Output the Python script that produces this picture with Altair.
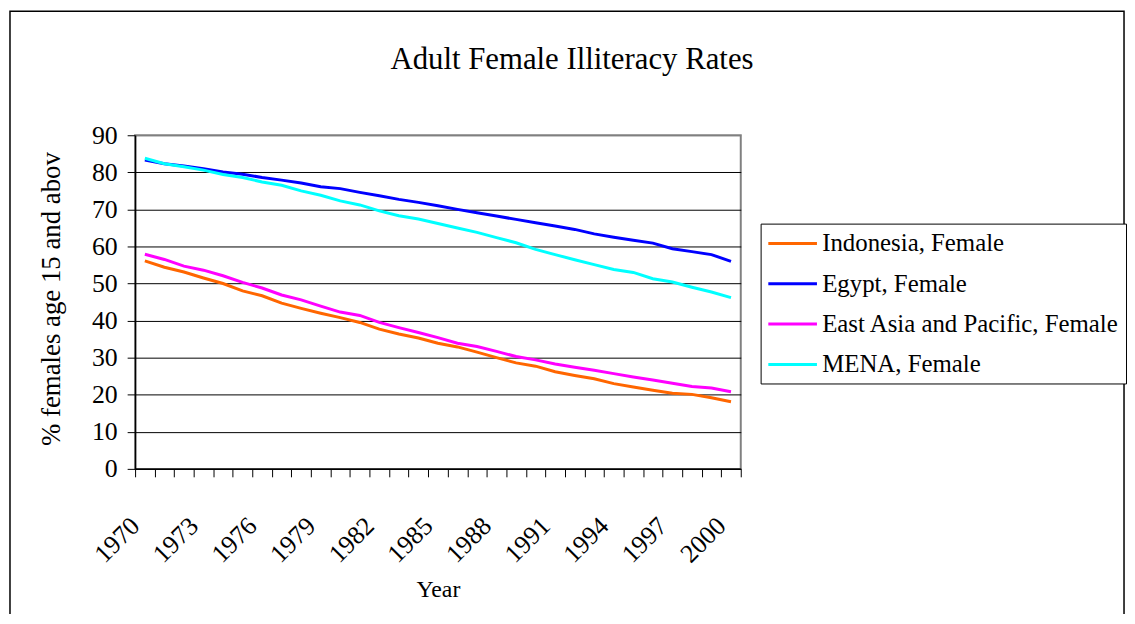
import altair as alt
import pandas as pd

# ---------------- data ----------------
years = list(range(1970, 2001))
label_years = list(range(1970, 2001, 3))
y_ticks = list(range(0, 91, 10))

series_names = ["Indonesia, Female", "Egypt, Female",
                "East Asia and Pacific, Female", "MENA, Female"]
series_colors = ["#FF6600", "#0000FF", "#FF00FF", "#00FFFF"]

indonesia = [56.1, 54.4, 53.1, 51.5, 50.0, 48.0, 46.7, 44.7, 43.3, 42.0,
             40.8, 39.5, 37.7, 36.4, 35.3, 33.9, 32.9, 31.5, 30.0, 28.6,
             27.7, 26.2, 25.2, 24.3, 23.0, 22.1, 21.2, 20.4, 20.1, 19.2, 18.1]
egypt = [83.3, 82.3, 81.7, 81.0, 80.1, 79.5, 78.6, 77.9, 77.1, 76.1,
         75.6, 74.6, 73.7, 72.7, 71.9, 71.0, 70.0, 69.1, 68.2, 67.3,
         66.4, 65.5, 64.6, 63.4, 62.5, 61.7, 60.9, 59.4, 58.6, 57.8, 56.0]
east_asia = [57.9, 56.5, 54.7, 53.6, 52.1, 50.3, 48.8, 46.9, 45.6, 43.9,
             42.3, 41.4, 39.5, 38.1, 36.8, 35.4, 33.9, 33.0, 31.7, 30.3,
             29.4, 28.3, 27.4, 26.6, 25.7, 24.8, 24.0, 23.1, 22.2, 21.8, 20.8]
mena = [83.8, 82.3, 81.5, 80.6, 79.4, 78.6, 77.4, 76.5, 75.0, 73.8,
        72.3, 71.2, 69.6, 68.3, 67.4, 66.2, 65.0, 63.8, 62.4, 61.0,
        59.2, 57.8, 56.4, 55.1, 53.8, 53.0, 51.3, 50.4, 49.0, 47.7, 46.2]

chart_title = "Adult Female Illiteracy Rates"
x_title = "Year"
y_title = "% females age 15 and above"

# ---------------- table ----------------
rows = []
for name, vals in zip(series_names, [indonesia, egypt, east_asia, mena]):
    for yr, v in zip(years, vals):
        rows.append({"series": name, "year": yr, "value": v})
df = pd.DataFrame(rows)

FONT = "Liberation Serif"
W, H = 610, 336

tick_vals = [y - 0.5 for y in years] + [years[-1] + 0.5]
label_expr = ("indexof([" + ",".join(str(y) for y in label_years) +
              "], datum.value + 0.5) >= 0 ? toString(datum.value + 0.5) : ''")

x_enc = alt.X(
    "year:Q",
    scale=alt.Scale(domain=[years[0] - 0.5, years[-1] + 0.5], nice=False, zero=False),
    axis=alt.Axis(
        values=tick_vals, labelExpr=label_expr, title=x_title, grid=False,
        labelAngle=-45, labelAlign="right", labelBaseline="middle",
        labelPadding=45, labelFontSize=26, labelFont=FONT, labelColor="black",
        labelOverlap=False, labelFlush=False, labelBound=False,
        tickSize=8, tickColor="black", tickWidth=1,
        domainColor="black", domainWidth=1.5,
        titleFont=FONT, titleFontSize=24, titleFontWeight="normal", titleColor="black",
        titleY=129, titleBaseline="alphabetic",
    ),
)
y_enc = alt.Y(
    "value:Q",
    scale=alt.Scale(domain=[0, 90], nice=False),
    axis=alt.Axis(
        values=y_ticks, title=None, grid=True,
        gridColor={"condition": {"test": "datum.value === 90", "value": "#808080"},
                   "value": "#000000"},
        gridWidth=1,
        labelPadding=10, labelFontSize=26, labelFont=FONT, labelColor="black",
        tickSize=8, tickColor="black", domainColor="black", domainWidth=1.5,
    ),
)

lines = alt.Chart(df).mark_line(strokeWidth=3).encode(
    x=x_enc,
    y=y_enc,
    color=alt.Color(
        "series:N",
        scale=alt.Scale(domain=series_names, range=series_colors),
        legend=alt.Legend(
            title=None, orient="none", legendX=630, legendY=89, direction="vertical",
            symbolType="M-1,0H3", symbolSize=600, symbolStrokeWidth=3,
            labelFont=FONT, labelFontSize=25, labelColor="black", labelLimit=600,
            labelOffset=28, rowPadding=13.6, padding=6,
            strokeColor="black", fillColor="white",
        ),
    ),
)

one = pd.DataFrame({"t": [chart_title], "yt": [y_title]})

border = alt.Chart(one).mark_rect(fillOpacity=0, stroke="black", strokeWidth=1.5).encode(
    x=alt.value(-126), x2=alt.value(996), y=alt.value(-125), y2=alt.value(520)
)

title_txt = alt.Chart(one).mark_text(
    font=FONT, fontSize=31, align="center", baseline="alphabetic", color="black"
).encode(text="t:N", x=alt.value(440), y=alt.value(-67))

ytitle_txt = alt.Chart(one).mark_text(
    font=FONT, fontSize=27, align="left", baseline="middle", angle=270,
    color="black", limit=302, ellipsis="\u200b"
).encode(text="yt:N", x=alt.value(-84), y=alt.value(313))

chart = alt.layer(border, lines, title_txt, ytitle_txt).properties(
    width=W, height=H,
    padding={"left": 128, "top": 126, "right": 389, "bottom": 144},
    autosize=alt.AutoSizeParams(type="none"),
    background="white",
).configure_view(stroke="#808080", strokeWidth=2)

chart.save("out.html", embed_options={"renderer": "svg", "actions": False})
